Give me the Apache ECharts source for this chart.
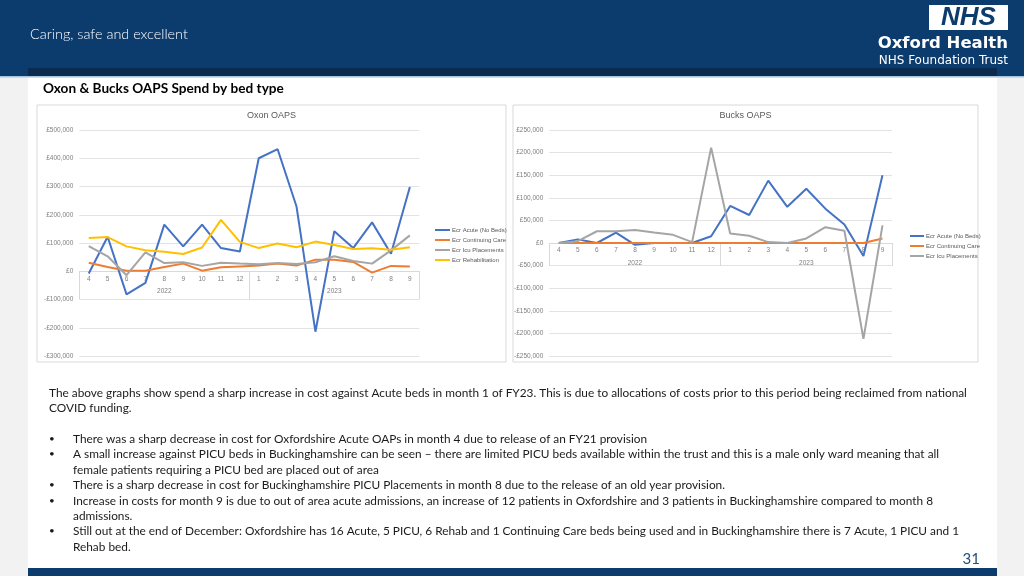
<!DOCTYPE html>
<html><head><meta charset="utf-8">
<script src="https://cdn.jsdelivr.net/npm/echarts@6/dist/echarts.min.js"></script>
<style>html,body{margin:0;padding:0;background:#f2f2f2}#c{width:1024px;height:576px}</style>
</head><body><div id="c"></div><script>
const months = ['4','5','6','7','8','9','10','11','12','1','2','3','4','5','6','7','8','9'];
const years = ['2022','2023'];
const seriesNames = ['Ecr Acute (No Beds)','Ecr Continuing Care','Ecr Icu Placements','Ecr Rehabilitation'];
// Oxon OAPS
const oxonAcute = [-8000,122000,-82000,-41000,165000,88000,165000,82000,70000,400000,432000,229000,-214000,142000,82000,173000,62000,298000];
const oxonCC    = [30000,15000,2000,2000,15000,27000,2000,14000,17000,20000,27000,20000,41000,41000,33000,-5000,19000,17000];
const oxonIcu   = [89000,53000,-14000,67000,29000,32000,19000,30000,27000,25000,29000,26000,32000,53000,36000,27000,74000,127000];
const oxonRehab = [118000,121000,88000,74000,69000,61000,84000,182000,104000,82000,98000,85000,105000,93000,79000,81000,76000,85000];
// Bucks OAPS
const bucksAcute = [0,8000,0,23000,-4000,0,0,0,15000,82000,62000,138000,80000,120000,76000,41000,-29000,150000];
const bucksCC    = [0,0,0,0,0,0,0,0,0,0,0,0,0,0,0,0,0,10000];
const bucksIcu   = [0,4000,26000,26000,29000,23000,18000,2000,211000,21000,16000,2000,0,10000,35000,27000,-212000,39000];

const colors = ['#4472C4','#ED7D31','#A5A5A5','#FFC000'];
const bodyFont = 'Lato,"Open Sans",sans-serif';
const chartFont = '"Liberation Sans","DejaVu Sans",sans-serif';
const logoFont = '"DejaVu Sans","Liberation Sans",sans-serif';

// fit a font size so that text spans a given width
const mctx = document.createElement('canvas').getContext('2d');
function fitSize(text, weight, family, width){
  mctx.font = weight + ' 100px ' + family;
  return 100 * width / mctx.measureText(text).width;
}

function money(v){ const a = Math.abs(v).toLocaleString('en-GB'); return (v < 0 ? '-£' : '£') + a; }
function monthLabel(val, idx){
  if (idx === 4) return '{m|' + val + '}\n{y|' + years[0] + '}';
  if (idx === 13) return '{m|' + val + '}\n{y|' + years[1] + '}';
  return '{m|' + val + '}';
}
function xAxisFor(gi, tickLen, offset){
  return {
    type:'category', gridIndex:gi, data:months, boundaryGap:true, position:'bottom', offset:offset,
    axisLine:{onZero:false, lineStyle:{color:'#d9d9d9', width:1}},
    axisTick:{show:true, interval:(i)=> i % 9 === 0, length:tickLen, lineStyle:{color:'#d9d9d9'}},
    axisLabel:{interval:0, margin:3, formatter:monthLabel,
      rich:{m:{fontSize:6.5, lineHeight:9, color:'#7f7f7f', fontFamily:chartFont},
            y:{fontSize:6.5, lineHeight:16, color:'#7f7f7f', fontFamily:chartFont}}}
  };
}
function yAxisFor(gi, min, max, step){
  return {
    type:'value', gridIndex:gi, min:min, max:max, interval:step,
    axisLine:{show:false}, axisTick:{show:false},
    splitLine:{lineStyle:{color:'#e3e3e3', width:1}},
    axisLabel:{formatter:money, fontSize:6.5, color:'#7f7f7f', margin:6, fontFamily:chartFont}
  };
}
function lineSeries(name, data, gi, ci){
  return {type:'line', name:name, data:data, xAxisIndex:gi, yAxisIndex:gi, symbol:'none',
    lineStyle:{width:2, color:colors[ci]}, itemStyle:{color:colors[ci]}, z:3, animation:false};
}

const bodyLines = [
  {t:'The above graphs show spend a sharp increase in cost against Acute beds in month 1 of FY23. This is due to allocations of costs prior to this period being reclaimed from national', y:393, b:false},
  {t:'COVID funding.', y:408, b:false},
  {t:'There was a sharp decrease in cost for Oxfordshire Acute OAPs in month 4 due to release of an FY21 provision', y:439, b:true},
  {t:'A small increase against PICU beds in Buckinghamshire can be seen – there are limited PICU beds available within the trust and this is a male only ward meaning that all', y:454, b:true},
  {t:'female patients requiring a PICU bed are placed out of area', y:470, b:false, ind:true},
  {t:'There is a sharp decrease in cost for Buckinghamshire PICU Placements in month 8 due to the release of an old year provision.', y:485, b:true},
  {t:'Increase in costs for month 9 is due to out of area acute admissions, an increase of 12 patients in Oxfordshire and 3 patients in Buckinghamshire compared to month 8', y:501, b:true},
  {t:'admissions.', y:516, b:false, ind:true},
  {t:'Still out at the end of December: Oxfordshire has 16 Acute, 5 PICU, 6 Rehab and 1 Continuing Care beds being used and in Buckinghamshire there is 7 Acute, 1 PICU and 1', y:531, b:true},
  {t:'Rehab bed.', y:547, b:false, ind:true}
];
const bodySize = fitSize(bodyLines[0].t, 'normal', bodyFont, 919);
const tagText = 'Caring, safe and excellent';
const tagSize = fitSize(tagText, '300', bodyFont, 158);
const titleText = 'Oxon & Bucks OAPS Spend by bed type';
const titleSize = fitSize(titleText, 'bold', bodyFont, 241);

const graphics = [
  {type:'rect', shape:{x:0,y:0,width:1024,height:76}, style:{fill:'#0c3b6d'}, z:-10, silent:true},
  {type:'rect', shape:{x:28,y:68,width:969,height:8}, style:{fill:'#0a2a4e'}, z:-9, silent:true},
  {type:'rect', shape:{x:0,y:76,width:1024,height:1.5}, style:{fill:'#a8c3de'}, z:-9, silent:true},
  {type:'rect', shape:{x:28,y:77.5,width:969,height:490.5}, style:{fill:'#ffffff'}, z:-10, silent:true},
  {type:'rect', shape:{x:28,y:568,width:969,height:8}, style:{fill:'#0c3b6d'}, z:-10, silent:true},
  {type:'rect', shape:{x:37,y:105,width:469,height:257}, style:{fill:'#ffffff', stroke:'#d9d9d9', lineWidth:1}, z:-8, silent:true},
  {type:'rect', shape:{x:513,y:105,width:465,height:257}, style:{fill:'#ffffff', stroke:'#d9d9d9', lineWidth:1}, z:-8, silent:true},
  {type:'text', x:30, y:34, style:{text:tagText, fill:'#ffffff', font:'300 ' + tagSize + 'px ' + bodyFont, textVerticalAlign:'middle'}},
  {type:'rect', shape:{x:929,y:5,width:79,height:25}, style:{fill:'#ffffff'}},
  {type:'text', x:968.5, y:17.5, style:{text:'NHS', fill:'#0c3b6d', font:'italic bold 26px "Liberation Sans",sans-serif', textAlign:'center', textVerticalAlign:'middle'}},
  {type:'text', x:1008, y:44, style:{text:'Oxford Health', fill:'#ffffff', font:'bold 16.5px ' + logoFont, textAlign:'right', textVerticalAlign:'middle'}},
  {type:'text', x:1008, y:61, style:{text:'NHS Foundation Trust', fill:'#ffffff', font:'12px ' + logoFont, textAlign:'right', textVerticalAlign:'middle'}},
  {type:'text', x:43, y:89, style:{text:titleText, fill:'#000000', font:'bold ' + titleSize + 'px ' + bodyFont, textVerticalAlign:'middle'}},
  {type:'text', x:271.5, y:116, style:{text:'Oxon OAPS', fill:'#595959', font:'9px ' + chartFont, textAlign:'center', textVerticalAlign:'middle'}},
  {type:'text', x:745.5, y:116, style:{text:'Bucks OAPS', fill:'#595959', font:'9px ' + chartFont, textAlign:'center', textVerticalAlign:'middle'}},
  {type:'text', x:980, y:559, style:{text:'31', fill:'#1f4e79', font:'15px ' + bodyFont, textAlign:'right', textVerticalAlign:'middle'}}
];
bodyLines.forEach(l => {
  graphics.push({type:'text', x:(l.b || l.ind) ? 73 : 49, y:l.y, style:{text:l.t, fill:'#1a1a1a', font:bodySize + 'px ' + bodyFont, textVerticalAlign:'middle'}});
  if (l.b) graphics.push({type:'text', x:49, y:l.y, style:{text:'•', fill:'#1a1a1a', font:(bodySize - 2) + 'px ' + bodyFont, textVerticalAlign:'middle'}});
});

const legendText = {fontSize:6, color:'#595959', fontFamily:chartFont, padding:[0,0,0,-3]};
const chart = echarts.init(document.getElementById('c'), null, {renderer:'canvas'});
chart.setOption({
  animation:false,
  backgroundColor:'#f2f2f2',
  color:colors,
  graphic:graphics,
  grid:[
    {left:79.3, top:130, width:340, height:226, containLabel:false},
    {left:549.3, top:130, width:342.7, height:226, containLabel:false}
  ],
  xAxis:[xAxisFor(0, 28, -226 * 300 / 800), xAxisFor(1, 23, -113)],
  yAxis:[yAxisFor(0, -300000, 500000, 100000), yAxisFor(1, -250000, 250000, 50000)],
  legend:[
    {orient:'vertical', left:430, top:222, itemWidth:15, itemHeight:2, itemGap:4, icon:'rect',
     data:seriesNames, textStyle:legendText, selectedMode:false},
    {orient:'vertical', left:905, top:228, itemWidth:14, itemHeight:2, itemGap:4, icon:'rect',
     data:seriesNames.slice(0,3), textStyle:legendText, selectedMode:false}
  ],
  series:[
    lineSeries(seriesNames[0], oxonAcute, 0, 0),
    lineSeries(seriesNames[1], oxonCC, 0, 1),
    lineSeries(seriesNames[2], oxonIcu, 0, 2),
    lineSeries(seriesNames[3], oxonRehab, 0, 3),
    lineSeries(seriesNames[0], bucksAcute, 1, 0),
    lineSeries(seriesNames[1], bucksCC, 1, 1),
    lineSeries(seriesNames[2], bucksIcu, 1, 2)
  ]
});
</script></body></html>
